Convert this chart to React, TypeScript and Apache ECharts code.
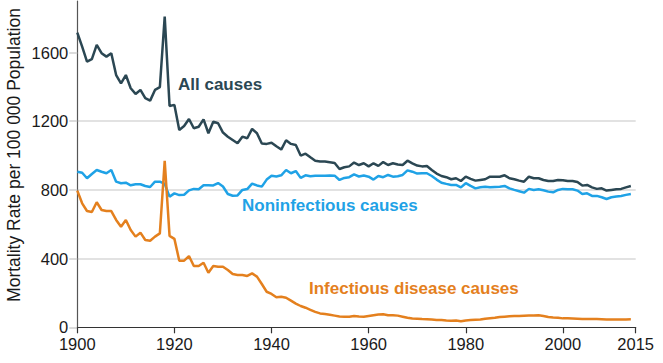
import React, { useEffect, useRef } from "react";
import * as echarts from "echarts";

const START_YEAR = 1900;

const allCauses = [
  1716, 1634, 1547, 1561, 1644, 1596, 1576, 1596, 1469, 1421,
  1469, 1392, 1359, 1382, 1334, 1320, 1382, 1398, 1809, 1289,
  1295, 1149, 1172, 1213, 1159, 1168, 1211, 1130, 1197, 1188,
  1134, 1110, 1091, 1072, 1110, 1101, 1155, 1130, 1070, 1068,
  1075, 1054, 1035, 1089, 1068, 1062, 1000, 1011, 990, 970,
  965, 965, 961, 957, 922, 932, 937, 959, 945, 955,
  937, 955, 940, 962, 945, 955, 948, 945, 970, 955,
  942, 937, 939, 916, 895, 881, 874, 862, 868, 852,
  877, 864, 854, 858, 862, 877, 877, 877, 885, 868,
  862, 854, 848, 877, 868, 868, 858, 852, 852, 858,
  856, 852, 852, 846, 825, 829, 815, 806, 809, 796,
  800, 804, 806, 815, 823,
];

const noninfectious = [
  906, 900, 868, 893, 916, 906, 897, 916, 848, 839,
  842, 827, 833, 833, 823, 817, 848, 848, 835, 761,
  780, 770, 772, 797, 806, 804, 827, 827, 826, 840,
  820, 776, 766, 768, 800, 805, 837, 826, 819, 860,
  882, 878, 885, 916, 897, 910, 870, 885, 880, 882,
  883, 883, 884, 883, 858, 870, 874, 890, 878, 884,
  877, 860, 881, 874, 887, 877, 880, 887, 914, 906,
  895, 897, 897, 881, 860, 842, 835, 829, 829, 815,
  839, 823, 809, 815, 819, 815, 817, 819, 823, 809,
  800, 792, 784, 806, 800, 804, 798, 790, 786, 800,
  806, 804, 804, 796, 776, 780, 765, 765, 757, 747,
  757, 761, 765, 771, 776,
];

const infectious = [
  796, 722, 677, 671, 728, 683, 677, 677, 625, 586,
  625, 567, 528, 551, 508, 504, 528, 547, 970, 532,
  515, 388, 388, 415, 357, 357, 376, 318, 357, 353,
  353, 334, 310, 305, 305, 299, 314, 295, 252, 207,
  194, 175, 178, 172, 155, 138, 124, 114, 102, 90,
  81, 77, 73, 68, 63, 62, 62, 66, 63, 62,
  66, 70, 74, 76, 70, 70, 68, 62, 56, 51,
  50, 48, 47, 45, 43, 43, 40, 38, 40, 35,
  40, 42, 44, 46, 50, 53, 55, 60, 62, 64,
  66, 66, 67, 68, 69, 70, 66, 60, 57, 55,
  52, 52, 51, 50, 49, 49, 48, 48, 47, 46,
  46, 46, 46, 46, 47,
];

const xTicks = [1900, 1920, 1940, 1960, 1980, 2000, 2015];
const yTicks = [0, 400, 800, 1200, 1600];

const seriesNames = ["All causes", "Noninfectious causes", "Infectious disease causes"];
const colors = ["#2b4753", "#1fa2e6", "#e4801e"];

const toPairs = (vals: number[]) => vals.map((v, i) => [START_YEAR + i, v]);

export default function App() {
  const ref = useRef<HTMLDivElement>(null);
  useEffect(() => {
    if (!ref.current) return;
    const chart = echarts.init(ref.current, null, { renderer: "svg" });
    const axisFont = "'Liberation Sans', Arial, sans-serif";
    const labelFont = "'Liberation Sans Narrow', 'Liberation Sans', sans-serif";
    chart.setOption({
      animation: false,
      backgroundColor: "#ffffff",
      grid: { left: 77.3, right: 27.3, top: 1, bottom: 35.7, containLabel: false },
      xAxis: {
        type: "value",
        min: 1900,
        max: 2015,
        axisLine: { show: true, onZero: false, lineStyle: { color: "#333333", width: 1.2 } },
        axisTick: { show: true, length: 6, customValues: xTicks, lineStyle: { color: "#333333", width: 1.2 } },
        axisLabel: {
          customValues: xTicks,
          margin: 8,
          color: "#1a1a1a",
          fontSize: 16.5,
          fontFamily: axisFont,
          formatter: (v: number) => String(v),
        },
        splitLine: { show: false },
      },
      yAxis: {
        type: "value",
        min: 0,
        max: 1900,
        axisLine: { show: true, lineStyle: { color: "#555555", width: 1.2 } },
        axisTick: { show: true, length: 8, customValues: yTicks, lineStyle: { color: "#cfcfcf", width: 1.5 } },
        axisLabel: {
          customValues: yTicks,
          margin: 9,
          color: "#1a1a1a",
          fontSize: 16.5,
          fontFamily: axisFont,
          formatter: (v: number) => String(v),
        },
        splitLine: {
          show: true,
          showMinLine: false,
          showMaxLine: false,
          lineStyle: { color: "#d9d9d9", width: 1.5 },
        },
      },
      graphic: [
        {
          type: "text",
          x: 14,
          y: 155,
          rotation: Math.PI / 2,
          style: {
            text: "Mortality Rate per 100 000 Population",
            fill: "#1a1a1a",
            font: `17.5px ${axisFont}`,
            textAlign: "center",
            textVerticalAlign: "middle",
          },
        },
        {
          type: "text",
          x: 178,
          y: 84.5,
          style: {
            text: seriesNames[0],
            fill: colors[0],
            font: `bold 17px ${labelFont}`,
            textAlign: "left",
            textVerticalAlign: "middle",
          },
        },
        {
          type: "text",
          x: 242,
          y: 205.5,
          style: {
            text: seriesNames[1],
            fill: colors[1],
            font: `bold 17px ${labelFont}`,
            textAlign: "left",
            textVerticalAlign: "middle",
          },
        },
        {
          type: "text",
          x: 309,
          y: 288.5,
          style: {
            text: seriesNames[2],
            fill: colors[2],
            font: `bold 17px ${labelFont}`,
            textAlign: "left",
            textVerticalAlign: "middle",
          },
        },
      ],
      series: [
        {
          name: seriesNames[0],
          type: "line",
          data: toPairs(allCauses),
          showSymbol: false,
          lineStyle: { color: colors[0], width: 2.5 },
          itemStyle: { color: colors[0] },
          z: 2,
        },
        {
          name: seriesNames[1],
          type: "line",
          data: toPairs(noninfectious),
          showSymbol: false,
          lineStyle: { color: colors[1], width: 2.5 },
          itemStyle: { color: colors[1] },
          z: 3,
        },
        {
          name: seriesNames[2],
          type: "line",
          data: toPairs(infectious),
          showSymbol: false,
          lineStyle: { color: colors[2], width: 2.5 },
          itemStyle: { color: colors[2] },
          z: 4,
        },
      ],
    });
    return () => chart.dispose();
  }, []);
  return (
    <div
      ref={ref}
      style={{ position: "fixed", left: 0, top: 0, width: 663, height: 363 }}
    />
  );
}
